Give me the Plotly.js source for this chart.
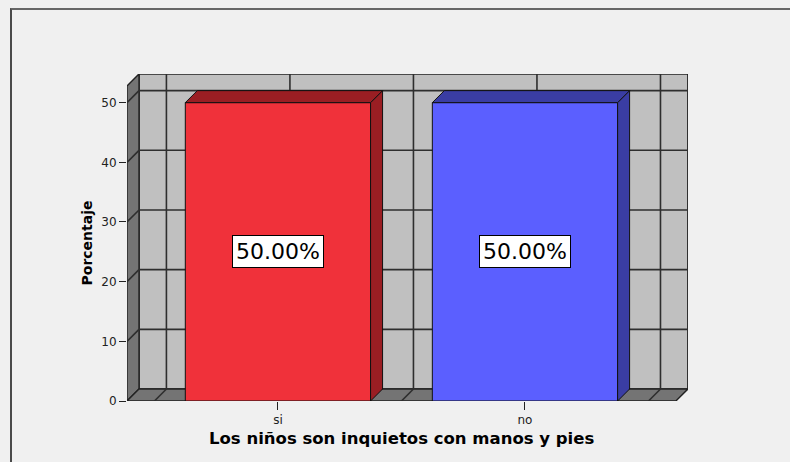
<!DOCTYPE html>
<html><head><meta charset="utf-8">
<script src="https://cdn.plot.ly/plotly-3.0.1.min.js"></script>
<style>
html,body{margin:0;padding:0;background:#f0f0f0;overflow:hidden;}
#chart{position:absolute;left:0;top:0;width:790px;height:462px;}
#frame{position:absolute;left:10px;top:8px;width:800px;height:470px;border-left:2px solid #4a4a4a;border-top:2px solid #666;pointer-events:none;}
</style></head>
<body>
<div id="frame"></div>
<div id="chart"></div>
<script>
// ---- data ----
const categories = ['si', 'no'];
const percentages = [50, 50];
const valueLabels = ['50.00%', '50.00%'];
const yTicks = [0, 10, 20, 30, 40, 50];
const xTitle = 'Los niños son inquietos con manos y pies';
const yTitle = 'Porcentaje';

// ---- style ----
const barFront = ['#F0313A', '#5B5FFF'];
const barSide = ['#9A1E23', '#3A3DA3'];
const W = 790, H = 462;
const M = {l: 127, r: 102, t: 74, b: 61};
const xRange = [-0.611, 1.66];
const yRange = [0, 54.8];
const DEPTH = 12; // px
const barWidth = 0.75;
const frontTop = 52.8;

const plotW = W - M.l - M.r, plotH = H - M.t - M.b;
const DX = DEPTH / (plotW / (xRange[1] - xRange[0]));
const DY = DEPTH / (plotH / (yRange[1] - yRange[0]));
const XL = xRange[0];
const XR = (categories.length - 1) + (0 - XL);
const YT = frontTop;

const xs = categories.map((c, i) => i);
const shapes = [];
const gridLine = {color: '#2e2e2e', width: 1.6};
// back wall
shapes.push({type: 'rect', layer: 'below', x0: XL + DX, x1: XR + DX, y0: DY, y1: YT + DY,
  fillcolor: '#C0C0C0', line: {color: '#222', width: 1.6}});
// left wall
shapes.push({type: 'path', layer: 'below',
  path: `M${XL},0 L${XL},${YT} L${XL + DX},${YT + DY} L${XL + DX},${DY} Z`,
  fillcolor: '#747474', line: {color: '#222', width: 1.4}});
// floor
shapes.push({type: 'path', layer: 'below',
  path: `M${XL},0 L${XR},0 L${XR + DX},${DY} L${XL + DX},${DY} Z`,
  fillcolor: '#747474', line: {color: '#222', width: 1.4}});
// horizontal grid (back wall + left wall)
yTicks.filter(v => v > 0).forEach(v => {
  shapes.push({type: 'line', layer: 'below', x0: XL + DX, x1: XR + DX, y0: v + DY, y1: v + DY, line: gridLine});
  shapes.push({type: 'line', layer: 'below', x0: XL, x1: XL + DX, y0: v, y1: v + DY, line: gridLine});
});
// vertical grid at categories and midpoints (back wall + floor)
const gx = [];
for (let i = 0; i < categories.length; i++) { gx.push(i - 0.5); gx.push(i); }
gx.push(categories.length - 0.5);
gx.forEach(g => {
  shapes.push({type: 'line', layer: 'below', x0: g + DX, x1: g + DX, y0: DY, y1: YT + DY, line: gridLine});
  shapes.push({type: 'line', layer: 'below', x0: g, x1: g + DX, y0: 0, y1: DY, line: gridLine});
});
// 3D faces of bars
xs.forEach((x, i) => {
  const v = percentages[i];
  const xl = x - barWidth / 2, xr = x + barWidth / 2;
  shapes.push({type: 'path', layer: 'above',
    path: `M${xr},0 L${xr},${v} L${xr + DX},${v + DY} L${xr + DX},${DY} Z`,
    fillcolor: barSide[i], line: {color: '#111', width: 1}});
  shapes.push({type: 'path', layer: 'above',
    path: `M${xl},${v} L${xr},${v} L${xr + DX},${v + DY} L${xl + DX},${v + DY} Z`,
    fillcolor: barSide[i], line: {color: '#111', width: 1}});
});

const annotations = xs.map((x, i) => ({
  x: x, y: percentages[i] / 2, xref: 'x', yref: 'y', text: valueLabels[i], showarrow: false,
  font: {family: 'DejaVu Sans', size: 22, color: '#000'},
  bgcolor: '#ffffff', bordercolor: '#000', borderwidth: 1, borderpad: 3
}));
annotations.push({
  x: (XL + XR) / 2, y: 0, xref: 'x', yref: 'paper', xanchor: 'center', yanchor: 'middle', yshift: -37,
  text: xTitle, showarrow: false, font: {family: 'DejaVu Sans', size: 16.5, color: '#000', weight: 'bold'}
});
annotations.push({
  x: 0, xref: 'paper', xanchor: 'center', xshift: -40, y: YT / 2, yref: 'y', yanchor: 'middle', textangle: -90,
  text: yTitle, showarrow: false, font: {family: 'DejaVu Sans', size: 14, color: '#000', weight: 'bold'}
});

const trace = {
  type: 'bar', x: xs, y: percentages, width: barWidth,
  marker: {color: barFront, line: {color: '#111', width: 1}},
  hoverinfo: 'skip', showlegend: false
};

const layout = {
  width: W, height: H, margin: M, autosize: false,
  paper_bgcolor: 'rgba(0,0,0,0)', plot_bgcolor: 'rgba(0,0,0,0)',
  showlegend: false,
  xaxis: {range: xRange, tickvals: xs, ticktext: categories, ticks: 'outside', ticklen: 8,
    tickcolor: '#222', tickwidth: 1, showgrid: false, zeroline: false, showline: false,
    tickfont: {family: 'DejaVu Sans', size: 12, color: '#222'}, fixedrange: true},
  yaxis: {range: yRange, tickvals: yTicks, ticks: 'outside', ticklen: 7, tickcolor: '#222', tickwidth: 1,
    showgrid: false, zeroline: false, showline: false,
    tickfont: {family: 'DejaVu Sans', size: 12, color: '#222'}, fixedrange: true},
  shapes: shapes, annotations: annotations
};
Plotly.newPlot('chart', [trace], layout, {displayModeBar: false, staticPlot: true});
</script>
</body></html>
